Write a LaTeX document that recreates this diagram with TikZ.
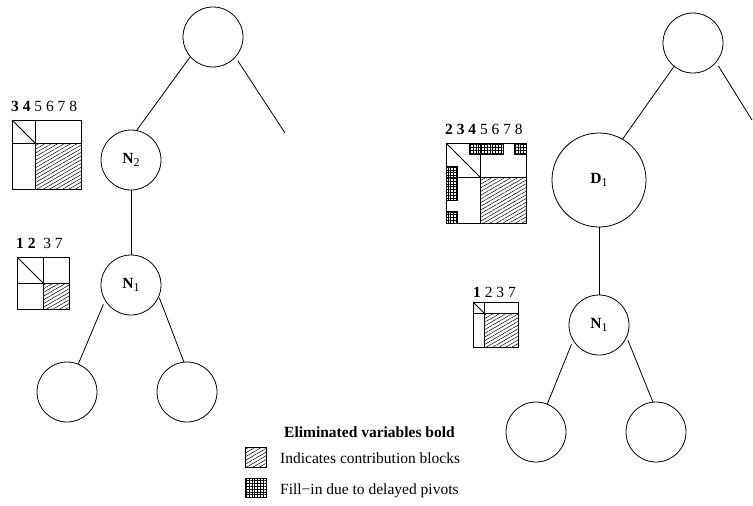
\documentclass[tikz,border=0pt]{standalone}
\usepackage{fontspec}
\setmainfont{Liberation Serif}
\usetikzlibrary{patterns.meta}

\tikzset{
  treenode/.style={circle, draw, line width=0.8pt, minimum size=60pt, inner sep=0pt,
                   font=\fontsize{15.5}{18}\selectfont},
  bignode/.style={treenode, minimum size=94pt},
  edge/.style={line width=0.8pt},
  mat/.style={line width=0.8pt},
  cb/.style={pattern={Lines[angle=30,distance=3.2pt,line width=0.5pt]}},
  fillin/.style={draw, line width=0.8pt,
                 pattern={Hatch[angle=0,distance=2.8pt,line width=0.9pt]}},
  lbl/.style={anchor=base west, inner sep=0pt, font=\fontsize{15.5}{18}\selectfont},
}
\newcommand{\nsub}[2]{\textbf{#1}\raisebox{-0.35ex}{\fontsize{12}{14}\selectfont #2}}

\begin{document}
\begin{tikzpicture}[x=1pt, y=-1pt]
\useasboundingbox (0,0) rectangle (753,506);

% ---------- left tree ----------
\node[treenode] (La)  at (213,37)  {};
\node[treenode] (LN2) at (131,160) {\nsub{N}{2}};
\node[treenode] (LN1) at (131,285) {\nsub{N}{1}};
\node[treenode] (Lc1) at (67,392)  {};
\node[treenode] (Lc2) at (187,392) {};
\coordinate (Lfree) at (285,133);

\draw[edge] (La.221) -- (LN2.79);
\draw[edge, shorten <=4pt] (La.318) -- (Lfree);
\draw[edge] (LN2.south) -- (LN1.north);
\draw[edge, shorten <=4pt] (LN1.211) -- (Lc1.68);
\draw[edge, shorten <=1pt] (LN1.337) -- (Lc2.96);

% front matrix of N2 (variables 3..8, 3 and 4 eliminated)
\node[lbl] (lab2) at (11,111) {\textbf{3 4} 5 6 7 8};
\fill[cb] (35,143) rectangle (81,189);
\draw[mat] (12,120) rectangle (81,189);
\draw[mat] (35,120) -- (35,189);
\draw[mat] (12,143) -- (81,143);
\draw[mat] (12,120) -- (35,143);

% front matrix of N1 (variables 1 2 3 7, 1 and 2 eliminated)
\node[lbl] (lab1) at (16,248.5) {\textbf{1 2}\ \ 3 7};
\fill[cb] (43,283) rectangle (69,309);
\draw[mat] (17,257) rectangle (69,309);
\draw[mat] (43,257) -- (43,309);
\draw[mat] (17,283) -- (69,283);
\draw[mat] (17,257) -- (43,283);

% ---------- right tree ----------
\node[treenode] (Ra)  at (693,43)  {};
\node[bignode]  (RD1) at (599,180) {\nsub{D}{1}};
\node[treenode] (RN1) at (599,325) {\nsub{N}{1}};
\node[treenode] (Rc1) at (536,432) {};
\node[treenode] (Rc2) at (656,432) {};
\coordinate (Rfree) at (752,120);

\draw[edge] (Ra.231) -- (RD1.60);
\draw[edge, shorten <=4pt] (Ra.320) -- (Rfree);
\draw[edge] (RD1.south) -- (RN1.north);
\draw[edge, shorten <=4pt] (RN1.211) -- (Rc1.68);
\draw[edge, shorten <=3pt] (RN1.336) -- (Rc2.96);

% front matrix of D1 (variables 2..8, 2 3 4 eliminated, delayed pivot fill-in)
\node[lbl] (lab3) at (445,134.5) {\textbf{2 3 4} 5 6 7 8};
\fill[cb] (480.3,177.3) rectangle (526,223);
\draw[fillin] (468.9,143) rectangle (503.1,154.4);
\draw[fillin] (514.6,143) rectangle (526,154.4);
\draw[fillin] (446,165.9) rectangle (457.4,200.1);
\draw[fillin] (446,211.6) rectangle (457.4,223);
\draw[mat] (446,143) rectangle (526,223);
\draw[mat] (480.3,143) -- (480.3,223);
\draw[mat] (446,177.3) -- (526,177.3);
\draw[mat] (446,143) -- (480.3,177.3);

% front matrix of N1 (variables 1 2 3 7, only 1 eliminated)
\node[lbl] (lab4) at (473,297.5) {\textbf{1} 2 3 7};
\fill[cb] (484.3,313.3) rectangle (518,347);
\draw[mat] (473,302) rectangle (518,347);
\draw[mat] (484.3,302) -- (484.3,347);
\draw[mat] (473,313.3) -- (518,313.3);
\draw[mat] (473,302) -- (484.3,313.3);

% ---------- legend ----------
\node[lbl] (leg0) at (284,437) {\textbf{Eliminated variables bold}};
\path[cb, draw, line width=0.8pt] (245,447) rectangle (266,467);
\node[lbl] (leg1) at (280,463) {Indicates contribution blocks};
\draw[fillin] (245,478) rectangle (266,497);
\node[lbl] (leg2) at (280,494) {Fill−in due to delayed pivots};
\end{tikzpicture}
\end{document}
